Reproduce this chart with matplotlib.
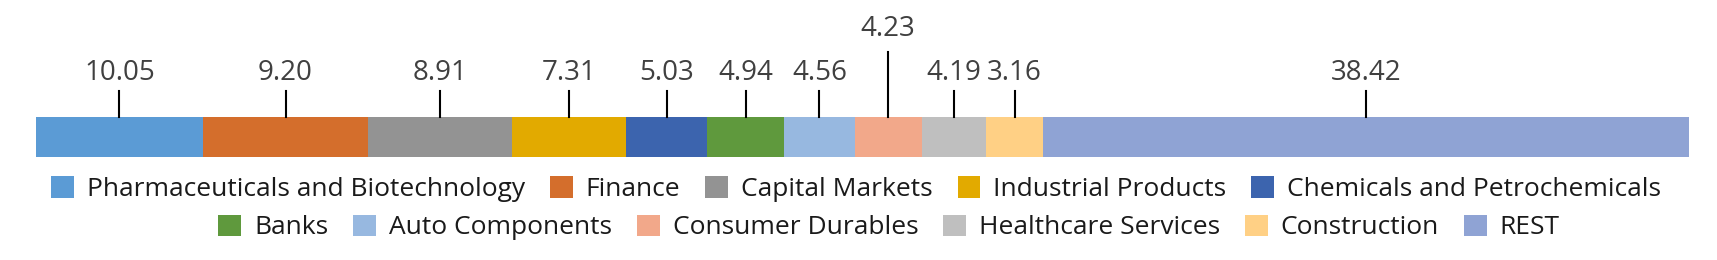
import matplotlib.pyplot as plt
from matplotlib.patches import Patch

sectors = ['Pharmaceuticals and Biotechnology', 'Finance', 'Capital Markets',
           'Industrial Products', 'Chemicals and Petrochemicals', 'Banks',
           'Auto Components', 'Consumer Durables', 'Healthcare Services',
           'Construction', 'REST']
widths = [10.15, 9.94, 8.73, 6.89, 4.92, 4.64, 4.28, 4.04, 3.91, 3.44, 39.06]
labels = ['10.05', '9.20', '8.91', '7.31', '5.03', '4.94', '4.56', '4.23',
          '4.19', '3.16', '38.42']
colors = ['#5B9BD5', '#D46E2C', '#939393', '#E2AA00', '#3C64AE', '#5F993D',
          '#97B8E0', '#F2A88A', '#BFBFBF', '#FFD085', '#8FA3D4']
raised = ['Consumer Durables']  # label pushed up to avoid overlap

plt.rcParams['font.family'] = ['Open Sans', 'DejaVu Sans']

fig = plt.figure(figsize=(17.17, 2.6), dpi=100)
ax = fig.add_axes([35.5 / 1717, 103 / 260, 1653.5 / 1717, 40 / 260])

left = 0
for name, w, lab, c in zip(sectors, widths, labels, colors):
    ax.barh(0.5, w, left=left, height=1.0, color=c, edgecolor='none')
    mid = left + w / 2
    if name in raised:
        top, ty = 2.625, 3.2
    else:
        top, ty = 1.65, 2.1
    ax.plot([mid, mid], [1, top], color='black', lw=1.5, clip_on=False)
    ax.text(mid, ty, lab, ha='center', va='center', fontsize=20,
            color='#404040')
    left += w

ax.set_xlim(0, sum(widths))
ax.set_ylim(0, 1)
ax.axis('off')

# legend in two rows, like the original layout
handles = [Patch(facecolor=c, edgecolor='none') for c in colors]
leg_kw = dict(frameon=False, fontsize=19, handlelength=0.87, handleheight=0.87,
              handletextpad=0.48, columnspacing=0.95, borderpad=0,
              labelcolor='#1a1a1a')
leg1 = fig.legend(handles[:5], sectors[:5], ncol=5, loc='center',
                  bbox_to_anchor=(856 / 1717, 0.272), **leg_kw)
leg2 = fig.legend(handles[5:], sectors[5:], ncol=6, loc='center',
                  bbox_to_anchor=(889 / 1717, 0.125), **leg_kw)

fig.savefig('out.png', dpi=100)
